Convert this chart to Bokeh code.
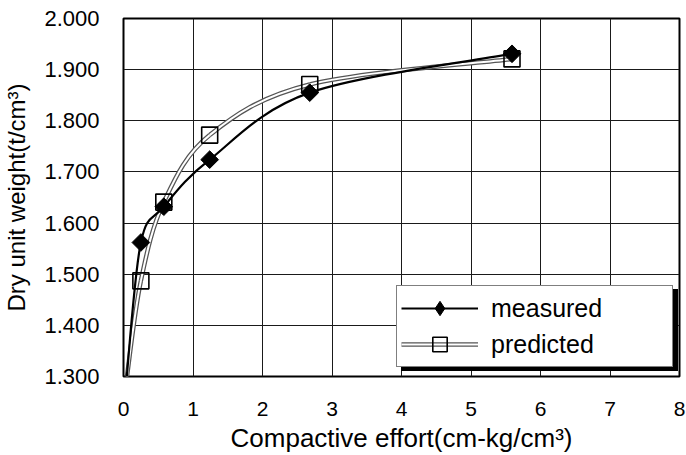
import numpy as np
from bokeh.plotting import figure
from bokeh.models import Range1d, FixedTicker, NumeralTickFormatter, Legend, LegendItem
from bokeh.embed import file_html
from bokeh.resources import INLINE

# ---- data ----
effort = [0.04, 0.25, 0.58, 1.24, 2.68, 5.59]
measured = [1.290, 1.562, 1.632, 1.724, 1.855, 1.931]
predicted = [1.290, 1.487, 1.641, 1.772, 1.871, 1.921]
x_ticks = [0, 1, 2, 3, 4, 5, 6, 7, 8]
y_ticks = [1.3, 1.4, 1.5, 1.6, 1.7, 1.8, 1.9, 2.0]
x_title = "Compactive effort(cm-kg/cm\u00b3)"
y_title = "Dry unit weight(t/cm\u00b3)"
labels = ["measured", "predicted"]

FONT = "Liberation Sans"


def smooth_segments(xs, ys):
    """Catmull-Rom style Bezier control points (like a spreadsheet 'smoothed line')."""
    x = np.asarray(xs, float)
    y = np.asarray(ys, float)
    n = len(x)
    qx = np.concatenate([[x[0]], x, [x[-1]]])
    qy = np.concatenate([[y[0]], y, [y[-1]]])
    px, cx, nx, nnx = qx[0:n - 1], qx[1:n], qx[2:n + 1], qx[3:n + 2]
    py, cy, ny, nny = qy[0:n - 1], qy[1:n], qy[2:n + 1], qy[3:n + 2]
    return dict(
        x0=cx, y0=cy, x1=nx, y1=ny,
        cx0=cx + (nx - px) / 6.0, cy0=cy + (ny - py) / 6.0,
        cx1=nx - (nnx - cx) / 6.0, cy1=ny - (nny - cy) / 6.0,
    )


p = figure(width=686, height=455,
           x_range=Range1d(0, 8), y_range=Range1d(1.3, 2.0),
           output_backend="svg", toolbar_location=None,
           min_border_left=123, min_border_right=7,
           min_border_top=18, min_border_bottom=78)

p.background_fill_color = "white"
p.border_fill_color = "white"
p.outline_line_color = "black"
p.outline_line_width = 2

# grid
p.xgrid.ticker = FixedTicker(ticks=x_ticks)
p.ygrid.ticker = FixedTicker(ticks=y_ticks)
for g in (p.xgrid, p.ygrid):
    g.grid_line_color = "#1a1a1a"
    g.grid_line_width = 1
    g.grid_line_alpha = 1.0

# axes
p.xaxis.ticker = FixedTicker(ticks=x_ticks)
p.yaxis.ticker = FixedTicker(ticks=y_ticks)
p.yaxis.formatter = NumeralTickFormatter(format="0.000")
for ax in (p.xaxis, p.yaxis):
    ax.axis_line_color = None
    ax.major_tick_line_color = None
    ax.minor_tick_line_color = None
    ax.major_tick_out = 0
    ax.major_tick_in = 0
    ax.major_label_text_font = FONT
    ax.major_label_text_color = "black"
    ax.axis_label_text_font = FONT
    ax.axis_label_text_font_style = "normal"
    ax.axis_label_text_color = "black"

p.xaxis.major_label_text_font_size = "21px"
p.yaxis.major_label_text_font_size = "22px"
p.xaxis.major_label_standoff = 25
p.yaxis.major_label_standoff = 24
p.xaxis.axis_label = x_title
p.yaxis.axis_label = y_title
p.xaxis.axis_label_text_font_size = "26px"
p.yaxis.axis_label_text_font_size = "24px"
p.xaxis.axis_label_standoff = 4
p.yaxis.axis_label_standoff = 11

# predicted: double (grey/white) smoothed line
ps = smooth_segments(effort, predicted)
pred_outer = p.bezier(**ps, line_color="#555555", line_width=4.5)
pred_inner = p.bezier(**ps, line_color="white", line_width=2)

# measured: solid black smoothed line
ms = smooth_segments(effort, measured)
meas_line = p.bezier(**ms, line_color="black", line_width=2.2)

# markers (the origin point carries no marker)
pred_sq = p.scatter(effort[1:], predicted[1:], marker="square", size=16,
                    fill_color=None, line_color="black", line_width=1.6)
meas_dm = p.scatter(effort[1:], measured[1:], marker="square", size=12.5,
                    angle=np.pi / 4, fill_color="black", line_color="black")
# legend-only diamond
meas_leg = p.scatter(effort[1:], measured[1:], marker="diamond", size=18,
                     fill_color="black", line_color="black", visible=False)


def make_legend(loc, bg, names):
    lg = Legend(items=[
        LegendItem(label=names[0], renderers=[meas_line, meas_leg]),
        LegendItem(label=names[1], renderers=[pred_outer, pred_inner, pred_sq]),
    ], location=loc)
    lg.margin = 0
    lg.padding = 4
    lg.spacing = 0
    lg.glyph_width = 77
    lg.glyph_height = 36
    lg.label_height = 36
    lg.label_width = 177
    lg.label_standoff = 13
    lg.label_text_font = FONT
    lg.label_text_font_size = "25px"
    lg.label_text_color = "black"
    lg.border_line_color = "black"
    lg.border_line_width = 1.5
    lg.background_fill_color = bg
    lg.background_fill_alpha = 1.0
    lg.click_policy = "none"
    return lg


# drop shadow: an identical black box (blank labels) offset right/down, drawn first
p.add_layout(make_legend((278, 5), "black", [" ", " "]), "center")
p.add_layout(make_legend((273, 9), "white", labels), "center")

open("out.html", "w").write(file_html(p, INLINE))
